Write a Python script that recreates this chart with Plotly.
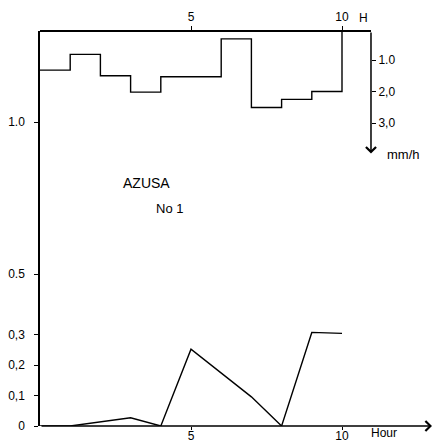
import plotly.graph_objects as go

# Hyetograph (rainfall intensity, mm/h) by hour start
rain_hours = [0, 1, 2, 3, 4, 5, 6, 7, 8, 9]
rain_mmh = [1.32, 0.82, 1.50, 2.02, 1.53, 1.53, 0.33, 2.51, 2.25, 2.00]
rain_end = 10

# Runoff / discharge curve
flow_hours = [0, 1, 3, 4, 5, 7, 8, 9, 10]
flow_vals = [0, 0, 0.027, 0, 0.253, 0.096, 0, 0.308, 0.305]

left_tickvals = [0, 0.1, 0.2, 0.3, 0.5, 1.0]
left_ticktext = ["0", "0,1", "0,2", "0,3", "0.5", "1.0"]
right_tickvals = [1, 2, 3]
right_ticktext = ["1.0", "2,0", "3,0"]
hour_ticks = [5, 10]

FONT = "Liberation Sans"
W, H = 434, 445
ML, MR, MT, MB = 40, 0, 31, 19
XMAX = (W - ML - MR) / 30.2
RIGHT_AXIS_H = 10.96
Y2_TOP = (31 - 28.5) / 31.5
Y2_BOT = (426 - 28.5) / 31.5

fig = go.Figure()

fig.add_trace(go.Scatter(
    x=flow_hours, y=flow_vals, mode="lines",
    line=dict(color="black", width=1.4),
    xaxis="x", yaxis="y", showlegend=False, hoverinfo="skip"))

fig.add_trace(go.Scatter(
    x=rain_hours + [rain_end, rain_end],
    y=rain_mmh + [rain_mmh[-1], 0],
    mode="lines", line=dict(color="black", width=1.4, shape="hv"),
    xaxis="x2", yaxis="y2", showlegend=False, hoverinfo="skip"))

fig.update_layout(
    width=W, height=H,
    margin=dict(l=ML, r=MR, t=MT, b=MB, autoexpand=False),
    paper_bgcolor="white", plot_bgcolor="white",
    font=dict(family=FONT, size=12, color="black"),
    xaxis=dict(range=[0, XMAX], tickvals=hour_ticks, ticks="outside", ticklen=3,
               tickwidth=1.2, tickcolor="black", showline=False,
               showgrid=False, zeroline=False, tickfont=dict(size=12, color="black"),
               ticklabelstandoff=-4, automargin=False),
    xaxis2=dict(range=[0, XMAX], overlaying="x", side="top", anchor="y",
                tickvals=hour_ticks, ticks="outside", ticklen=4, tickwidth=1.2,
                tickcolor="black", showline=False, showgrid=False, zeroline=False,
                tickfont=dict(size=12, color="black"), automargin=False),
    yaxis=dict(range=[0, 1.30], tickvals=left_tickvals, ticktext=left_ticktext,
               ticks="outside", ticklen=4, tickwidth=1.2, tickcolor="black",
               showline=True, linecolor="black", linewidth=1.5,
               showgrid=False, zeroline=False, ticklabelstandoff=7,
               tickfont=dict(size=12, color="black"), automargin=False),
    yaxis2=dict(range=[Y2_BOT, Y2_TOP], overlaying="y", anchor="free",
                position=(RIGHT_AXIS_H / XMAX), side="right",
                tickvals=right_tickvals, ticktext=right_ticktext,
                ticks="outside", ticklen=4, tickwidth=1.2, tickcolor="black",
                showline=False, showgrid=False, zeroline=False,
                tickfont=dict(size=12, color="black"), automargin=False),
)

# top axis line
fig.add_shape(type="line", xref="x", yref="paper", x0=0, x1=RIGHT_AXIS_H,
              y0=1, y1=1, line=dict(color="black", width=2))

# right axis arrow (downwards)
fig.add_annotation(x=RIGHT_AXIS_H, y=3.97, xref="x2", yref="y2",
                   ax=RIGHT_AXIS_H, ay=Y2_TOP, axref="x2", ayref="y2",
                   text="", showarrow=True, arrowhead=4, arrowsize=1.3,
                   arrowwidth=1.5, arrowcolor="black")
# bottom axis arrow
fig.add_annotation(x=12.98, y=0, xref="x", yref="y", ax=0, ay=0,
                   axref="x", ayref="y", text="", showarrow=True,
                   arrowhead=4, arrowsize=1.3, arrowwidth=1.5,
                   arrowcolor="black")

fig.add_annotation(x=12.04, y=0.895, xref="x", yref="y", text="mm/h",
                   showarrow=False, font=dict(size=13, color="black"),
                   xanchor="center", yanchor="middle")
fig.add_annotation(x=10.7, y=(426 - 18) / 395, xref="x", yref="paper",
                   text="H", showarrow=False, font=dict(size=12, color="black"),
                   xanchor="center", yanchor="middle")
fig.add_annotation(x=11.39, y=(426 - 433) / 395, xref="x", yref="paper",
                   text="Hour", showarrow=False, font=dict(size=12, color="black"),
                   xanchor="center", yanchor="middle")
fig.add_annotation(x=3.53, y=0.80, xref="x", yref="y", text="AZUSA",
                   showarrow=False, font=dict(size=14, color="black"),
                   xanchor="center", yanchor="middle")
fig.add_annotation(x=4.29, y=0.717, xref="x", yref="y", text="No 1",
                   showarrow=False, font=dict(size=13, color="black"),
                   xanchor="center", yanchor="middle")

fig.write_html("out.html")
